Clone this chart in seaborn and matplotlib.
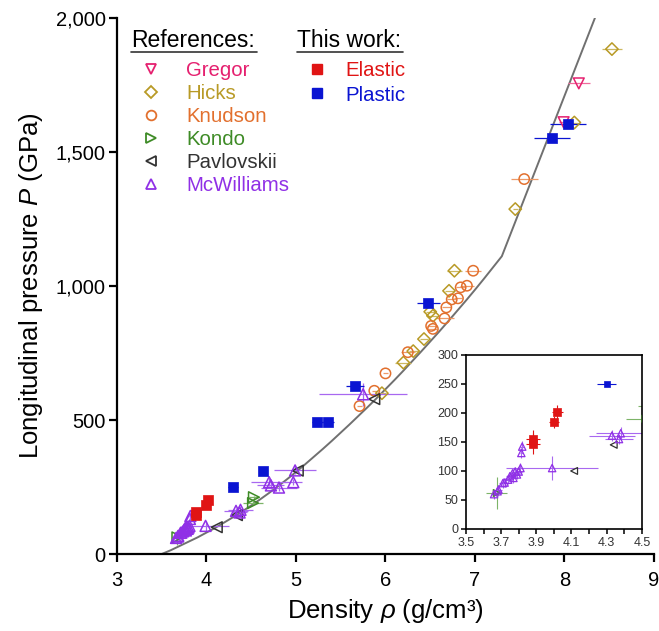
import numpy as np
import pandas as pd
import matplotlib
matplotlib.use("Agg")
import matplotlib.pyplot as plt
import seaborn as sns
from matplotlib.lines import Line2D
from matplotlib.ticker import FuncFormatter, FixedLocator

# ---------------- data ----------------
gregor_x = [7.99, 8.16]
gregor_y = [1611, 1756]
gregor_xerr = [0.05, 0.12]
gregor_yerr = [0, 0]

hicks_x = [5.96, 6.20, 6.31, 6.43, 6.50, 6.53, 6.71, 6.77, 7.45, 8.11, 8.53]
hicks_y = [600, 714, 757, 802, 904, 889, 982, 1057, 1287, 1610, 1884]
hicks_xerr = [0.05, 0.09, 0.05, 0.04, 0.05, 0.05, 0.05, 0.08, 0.03, 0.05, 0.11]
hicks_yerr = [0, 0, 0, 0, 0, 0, 0, 0, 0, 0, 0]

knudson_x = [5.71, 5.875, 6.00, 6.25, 6.51, 6.53, 6.66, 6.68, 6.74, 6.81, 6.84, 6.91, 6.98, 7.55]
knudson_y = [552, 609, 674, 753, 851, 840, 879, 920, 950, 954, 995, 1001, 1057, 1399]
knudson_xerr = [0.03, 0.03, 0.03, 0.08, 0.05, 0.05, 0.10, 0.05, 0.05, 0.05, 0.05, 0.08, 0.09, 0.15]
knudson_yerr = [0] * 14

kondo_x = [3.675, 4.52, 4.53]
kondo_y = [62, 190, 212]
kondo_xerr = [0.06, 0.11, 0.05]
kondo_yerr = [27, 6, 6]

pavlov_x = [4.115, 4.34, 5.02, 5.875]
pavlov_y = [100, 145, 311, 578]

mcw_x = [3.66, 3.68, 3.685, 3.71, 3.72, 3.74, 3.75, 3.765, 3.77, 3.78, 3.79, 3.80, 3.81,
         3.815, 3.82, 3.99, 4.33, 4.37, 4.38, 4.70, 4.72, 4.81, 4.97, 4.99, 5.75]
mcw_y = [60, 65, 68, 79, 80, 85, 91, 96, 88, 99, 94, 99, 105,
         131, 142, 105, 161, 155, 165, 268, 256, 248, 268, 312, 596]
mcw_xerr = [0.02, 0.02, 0.02, 0.02, 0.02, 0.02, 0.02, 0.02, 0.02, 0.02, 0.02, 0.02, 0.02,
            0.01, 0.01, 0.26, 0.13, 0.08, 0.14, 0.20, 0.15, 0.20, 0.10, 0.23, 0.49]
mcw_yerr = [8, 8, 8, 8, 8, 8, 8, 8, 8, 8, 8, 8, 8,
            8, 10, 20, 10, 8, 10, 15, 12, 12, 12, 15, 42]

elastic_x = [3.88, 3.88, 4.00, 4.02]
elastic_y = [155, 147, 184, 202]
elastic_xerr = [0.04, 0.04, 0.03, 0.03]
elastic_yerr = [15, 18, 10, 12]

plastic_x = [4.30, 4.635, 5.24, 5.36, 5.66, 6.48, 7.86, 8.04]
plastic_y = [250, 311, 494, 494, 627, 937, 1551, 1603]
plastic_xerr = [0.055, 0.04, 0.06, 0.06, 0.10, 0.13, 0.20, 0.20]
plastic_yerr = [4, 6, 8, 8, 10, 12, 15, 15]

# model curve, every 0.1 g/cm3 up to the kink
curve_x = [3.5, 3.6, 3.7, 3.8, 3.9, 4.0, 4.1, 4.2, 4.3, 4.4, 4.5, 4.6, 4.7, 4.8, 4.9,
           5.0, 5.1, 5.2, 5.3, 5.4, 5.5, 5.6, 5.7, 5.8, 5.9, 6.0, 6.1, 6.2, 6.3, 6.4,
           6.5, 6.6, 6.7, 6.8, 6.9, 7.0, 7.1, 7.2, 7.3, 8.34]
curve_y = [0, 14, 30, 46, 62, 80, 98, 118, 138, 159, 181, 204, 228, 253, 279,
           306, 334, 363, 392, 422, 453, 484, 516, 548, 581, 615, 649, 684, 720, 756,
           793, 830, 868, 907, 946, 986, 1027, 1069, 1111, 2000]

y_ticks = [0, 500, 1000, 1500, 2000]
x_ticks = [3, 4, 5, 6, 7, 8, 9]
inset_x_ticks = [3.5, 3.6, 3.7, 3.8, 3.9, 4.0, 4.1, 4.2, 4.3, 4.4, 4.5]
inset_x_labels = ["3.5", "", "3.7", "", "3.9", "", "4.1", "", "4.3", "", "4.5"]
inset_y_ticks = [0, 50, 100, 150, 200, 250, 300]

ref_names = ["Gregor", "Hicks", "Knudson", "Kondo", "Pavlovskii", "McWilliams"]
work_names = ["Elastic", "Plastic"]

# ---------------- styles ----------------
C_GREGOR = "#E5206F"
C_HICKS = "#B89A26"
C_KNUDSON = "#E2702E"
C_KONDO = "#3E8B26"
C_PAVLOV = "#333333"
C_MCW = "#9030E6"
C_EL = "#E01414"
C_PL = "#0A14D2"

sns.set_theme(style="ticks")
plt.rcParams['font.family'] = ['Liberation Sans', 'DejaVu Sans']
plt.rcParams['mathtext.fontset'] = 'custom'
plt.rcParams['mathtext.rm'] = 'Liberation Sans'
plt.rcParams['mathtext.it'] = 'Liberation Sans:italic'

fig = plt.figure(figsize=(6.59, 6.31), dpi=100)
ax = fig.add_axes([0.1775, 0.122, 0.8149, 0.8495])
axin = fig.add_axes([0.707, 0.1617, 0.267, 0.2758])

series = [
    # x, y, xerr, yerr, marker, color, errcolor, filled, s_main, s_inset
    (gregor_x, gregor_y, gregor_xerr, gregor_yerr, 'v', C_GREGOR, "#F06A9C", False, 60, 24),
    (hicks_x, hicks_y, hicks_xerr, hicks_yerr, 'D', C_HICKS, "#CDB860", False, 40, 16),
    (knudson_x, knudson_y, knudson_xerr, knudson_yerr, 'o', C_KNUDSON, "#EE9A68", False, 55, 22),
    (kondo_x, kondo_y, kondo_xerr, kondo_yerr, '>', C_KONDO, "#7DB468", False, 60, 24),
    (pavlov_x, pavlov_y, None, None, '<', C_PAVLOV, C_PAVLOV, False, 60, 24),
    (mcw_x, mcw_y, mcw_xerr, mcw_yerr, '^', C_MCW, "#A868F0", False, 62, 28),
    (elastic_x, elastic_y, elastic_xerr, elastic_yerr, 's', C_EL, C_EL, True, 55, 30),
    (plastic_x, plastic_y, plastic_xerr, plastic_yerr, 's', C_PL, C_PL, True, 55, 24),
]

# model curve
sns.lineplot(x=curve_x, y=curve_y, sort=False, estimator=None, color="#707070",
             lw=1.4, ax=ax, zorder=1)

for a, is_inset in [(ax, False), (axin, True)]:
    for (x, y, xe, ye, m, c, ec, filled, s_main, s_in) in series:
        if xe is not None:
            a.errorbar(x, y, xerr=xe, yerr=ye, fmt='none', ecolor=ec,
                       elinewidth=0.9 if not is_inset else 0.8, capsize=0, zorder=2)
        s = s_in if is_inset else s_main
        lw = 1.1 if not is_inset else 0.9
        if filled:
            sns.scatterplot(x=x, y=y, marker=m, s=s, color=c, edgecolor=c,
                            linewidth=0.5, ax=a, zorder=3, legend=False)
        else:
            sns.scatterplot(x=x, y=y, marker=m, s=s, facecolor='none', edgecolor=c,
                            linewidth=lw, ax=a, zorder=3, legend=False)

# ---------------- main axes ----------------
ax.set_xlim(3, 9)
ax.set_ylim(0, 2000)
ax.set_xticks(x_ticks)
ax.set_yticks(y_ticks)
ax.yaxis.set_major_formatter(FuncFormatter(lambda v, p: f"{int(v):,}"))
sns.despine(ax=ax)
for sp in ["left", "bottom"]:
    ax.spines[sp].set_linewidth(1.6)
    ax.spines[sp].set_color("black")
ax.tick_params(axis='both', direction='out', length=6, width=1.6, color='black',
               labelsize=14.5, labelcolor='black')
ax.tick_params(axis='x', pad=6)
ax.tick_params(axis='y', pad=2)
ax.set_xlabel("Density $\\rho$ (g/cm³)", fontsize=18.5, color='black', labelpad=5)
ax.set_ylabel("Longitudinal pressure $P$ (GPa)", fontsize=18.5, color='black', labelpad=8)

# ---------------- inset ----------------
axin.set_xlim(3.5, 4.5)
axin.set_ylim(0, 300)
axin.xaxis.set_major_locator(FixedLocator(inset_x_ticks))
axin.set_xticklabels(inset_x_labels)
axin.set_yticks(inset_y_ticks)
axin.set_facecolor("white")
for sp in axin.spines.values():
    sp.set_linewidth(1.2)
    sp.set_color("black")
axin.tick_params(axis='both', direction='out', length=3.5, width=1.1, color='black',
                 labelsize=9, labelcolor='#333333', pad=2)
axin.set_xlabel("")
axin.set_ylabel("")

# ---------------- legend ----------------
fs_leg = 14.7
ref_handles = [
    Line2D([], [], ls='', marker='v', ms=7, mfc='none', mec=C_GREGOR, mew=1.3),
    Line2D([], [], ls='', marker='D', ms=6.5, mfc='none', mec=C_HICKS, mew=1.3),
    Line2D([], [], ls='', marker='o', ms=7, mfc='none', mec=C_KNUDSON, mew=1.3),
    Line2D([], [], ls='', marker='>', ms=7, mfc='none', mec=C_KONDO, mew=1.3),
    Line2D([], [], ls='', marker='<', ms=7, mfc='none', mec=C_PAVLOV, mew=1.3),
    Line2D([], [], ls='', marker='^', ms=7, mfc='none', mec=C_MCW, mew=1.3),
]
ref_colors = [C_GREGOR, C_HICKS, C_KNUDSON, C_KONDO, C_PAVLOV, C_MCW]
leg1 = ax.legend(ref_handles, ref_names, loc='upper left', bbox_to_anchor=(0.045, 0.919),
                 frameon=False, fontsize=fs_leg, handlelength=1.0, handletextpad=1.2,
                 labelspacing=0.19, borderpad=0, borderaxespad=0)
for t, c in zip(leg1.get_texts(), ref_colors):
    t.set_color(c)
ax.add_artist(leg1)

work_handles = [
    Line2D([], [], ls='', marker='s', ms=7.5, mfc=C_EL, mec=C_EL),
    Line2D([], [], ls='', marker='s', ms=7.5, mfc=C_PL, mec=C_PL),
]
leg2 = ax.legend(work_handles, work_names, loc='upper left', bbox_to_anchor=(0.353, 0.9197),
                 frameon=False, fontsize=fs_leg, handlelength=1.0, handletextpad=0.9,
                 labelspacing=0.27, borderpad=0, borderaxespad=0)
for t, c in zip(leg2.get_texts(), [C_EL, C_PL]):
    t.set_color(c)

ax.text(0.027, 0.958, "References:", transform=ax.transAxes, fontsize=16.5,
        ha='left', va='center', color='black')
ax.text(0.335, 0.958, "This work:", transform=ax.transAxes, fontsize=16.5,
        ha='left', va='center', color='black')
ax.plot([0.027, 0.260], [0.937, 0.937], transform=ax.transAxes, color='#333333',
        lw=1.2, clip_on=False)
ax.plot([0.335, 0.533], [0.937, 0.937], transform=ax.transAxes, color='#333333',
        lw=1.2, clip_on=False)

fig.savefig("out.png", dpi=100)
